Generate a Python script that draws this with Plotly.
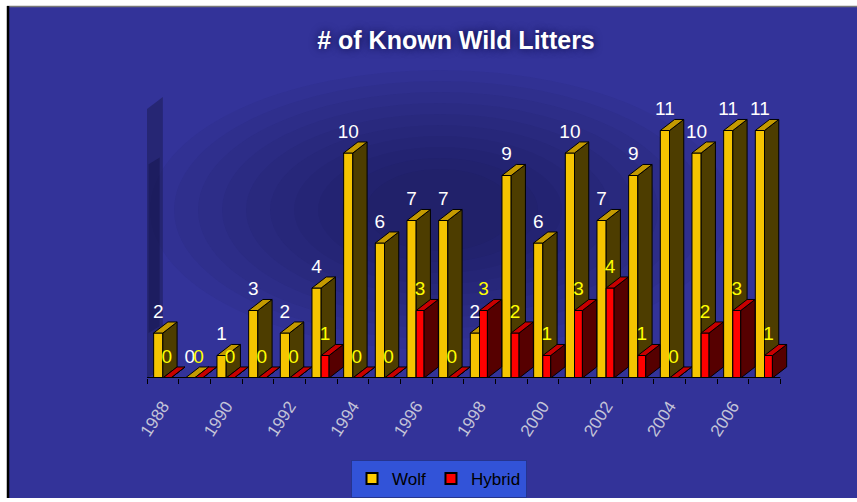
import plotly.graph_objects as go

# ---- data ----
years = [str(y) for y in range(1988, 2008)]
wolf = [2, 0, 1, 3, 2, 4, 10, 6, 7, 7, 2, 9, 6, 10, 7, 9, 11, 10, 11, 11]
hybrid = [0, 0, 0, 0, 0, 1, 0, 0, 3, 0, 3, 2, 1, 3, 4, 1, 0, 2, 3, 1]
label_years = years[::2]

# ---- 3D-ish geometry (in axis units) ----
WOLF_OFF = (-0.29, 0.0)
HYB_OFF = (0.0, 0.25)
DX, DY = 0.45, 0.49
LBL_DY = 0.9

idx = list(range(len(years)))


def faces(vals, off):
    fx, fy, sx, sy, tx, ty = [], [], [], [], [], []
    for i, v in zip(idx, vals):
        a, b = i + off[0], i + off[1]
        fx += [a, b, b, a, a, None]
        fy += [0, 0, v, v, 0, None]
        sx += [b, b + DX, b + DX, b, b, None]
        sy += [0, DY, v + DY, v, 0, None]
        tx += [a, b, b + DX, a + DX, a, None]
        ty += [v, v, v + DY, v + DY, v, None]
    return (fx, fy), (sx, sy), (tx, ty)


fig = go.Figure()


def add_bar(vals, off, c_front, c_side, c_top):
    (fx, fy), (sx, sy), (tx, ty) = faces(vals, off)
    for xs, ys, c in ((fx, fy, c_front), (sx, sy, c_side), (tx, ty, c_top)):
        fig.add_trace(go.Scatter(x=xs, y=ys, mode="lines", fill="toself",
                                 fillcolor=c, line=dict(color="black", width=1),
                                 showlegend=False, hoverinfo="skip"))


add_bar(wolf, WOLF_OFF, "#f5c400", "#4d3d00", "#c49a00")
add_bar(hybrid, HYB_OFF, "#ff0000", "#560000", "#c80000")

# data labels
fig.add_trace(go.Scatter(
    x=[i + (WOLF_OFF[0] + WOLF_OFF[1]) / 2 for i in idx],
    y=[v + LBL_DY for v in wolf], mode="text", text=[str(v) for v in wolf],
    textfont=dict(color="white", size=19, family="Liberation Sans"),
    showlegend=False, hoverinfo="skip"))
fig.add_trace(go.Scatter(
    x=[i + (HYB_OFF[0] + HYB_OFF[1]) / 2 for i in idx],
    y=[v + LBL_DY for v in hybrid], mode="text", text=[str(v) for v in hybrid],
    textfont=dict(color="#ffff00", size=19, family="Liberation Sans"),
    showlegend=False, hoverinfo="skip"))

# legend entries
fig.add_trace(go.Scatter(x=[None], y=[None], mode="markers", name="Wolf",
                         marker=dict(symbol="square", size=11, color="#ffcc00",
                                     line=dict(color="black", width=2))))
fig.add_trace(go.Scatter(x=[None], y=[None], mode="markers", name="Hybrid",
                         marker=dict(symbol="square", size=11, color="#ff0000",
                                     line=dict(color="black", width=2))))

# ---- layout ----
L, R, T, B = 147, 64, 90, 124
W, H = 857, 502
PW, PH = W - L - R, H - T - B


def px(x):
    return (x - L) / PW


def py(y):
    return (H - B - y) / PH


shapes = []
# central dark glow (soft, many faint layers)
for k in range(10):
    rx = 290 - k * 24
    ry = 140 - k * 11
    cx, cy = 440, 210
    shapes.append(dict(type="circle", xref="paper", yref="paper",
                       x0=px(cx - rx), x1=px(cx + rx), y0=py(cy + ry), y1=py(cy - ry),
                       fillcolor="rgba(15,15,60,0.055)", line=dict(width=0), layer="below"))
# left wall
shapes.append(dict(type="path", xref="x", yref="y",
                   path="M -0.5,0 L -0.5,11.96 L 0.0,12.49 L 0.0,0.4 Z",
                   fillcolor="rgba(25,25,80,0.5)", line=dict(width=0), layer="below"))
shapes.append(dict(type="path", xref="x", yref="y",
                   path="M -0.45,2 L -0.45,9.5 L -0.1,9.8 L -0.1,2.3 Z",
                   fillcolor="rgba(10,10,50,0.3)", line=dict(width=0), layer="below"))
# floor line
shapes.append(dict(type="line", xref="x", yref="y", x0=-0.5, x1=19.5, y0=0, y1=0,
                   line=dict(color="black", width=2), layer="above"))
# page border
shapes.append(dict(type="rect", xref="paper", yref="paper", x0=px(0), x1=px(W),
                   y0=py(0), y1=py(6), fillcolor="white", line=dict(width=0)))
shapes.append(dict(type="line", xref="paper", yref="paper", x0=px(7), x1=px(W),
                   y0=py(6.5), y1=py(6.5), line=dict(color="#777777", width=1.5)))
shapes.append(dict(type="rect", xref="paper", yref="paper", x0=px(0), x1=px(7),
                   y0=py(0), y1=py(H), fillcolor="white", line=dict(width=0)))
shapes.append(dict(type="line", xref="paper", yref="paper", x0=px(8), x1=px(8),
                   y0=py(6), y1=py(498), line=dict(color="black", width=2.5)))
shapes.append(dict(type="rect", xref="paper", yref="paper", x0=px(0), x1=px(W),
                   y0=py(498), y1=py(H), fillcolor="white", line=dict(width=0)))

fig.update_layout(
    width=W, height=H,
    margin=dict(l=L, r=R, t=T, b=B, autoexpand=False),
    paper_bgcolor="#333399", plot_bgcolor="rgba(0,0,0,0)",
    font=dict(family="Liberation Sans", color="white"),
    title=dict(text="<b># of Known Wild Litters</b>", x=px(456), xanchor="center",
               xref="paper", y=1 - 40 / H, yanchor="middle",
               font=dict(size=25, color="white", family="Liberation Sans",
                         shadow="0px 0px 8px #0a0a40")),
    xaxis=dict(range=[-0.5, 19.9], showgrid=False, zeroline=False, showline=False,
               tickmode="array", tickvals=[i - 0.5 for i in range(21)],
               ticks="outside", ticklen=5, tickwidth=1, tickcolor="black",
               showticklabels=False, fixedrange=True),
    xaxis2=dict(overlaying="x", matches="x", anchor="y", side="bottom",
                showgrid=False, zeroline=False, showline=False,
                tickmode="array", tickvals=idx[::2], ticktext=label_years,
                ticks="", tickangle=-57, ticklabelstandoff=14,
                tickfont=dict(size=17, color="#c4c4d8", family="Liberation Sans")),
    yaxis=dict(range=[0, PH / 22.5], visible=False, fixedrange=True),
    showlegend=True,
    legend=dict(orientation="h", x=px(439), xanchor="center", y=py(460), yanchor="top",
                bgcolor="#3253d8", bordercolor="#26348f", borderwidth=1,
                font=dict(size=17, color="black", family="Liberation Sans"),
                itemwidth=30),
    shapes=shapes,
)

# dummy trace to activate xaxis2
fig.add_trace(go.Scatter(x=[0], y=[None], xaxis="x2", showlegend=False, hoverinfo="skip"))

fig.write_html("out.html", config={"displayModeBar": False},
               post_script="document.body.style.margin='0px';document.body.style.overflow='hidden';")
